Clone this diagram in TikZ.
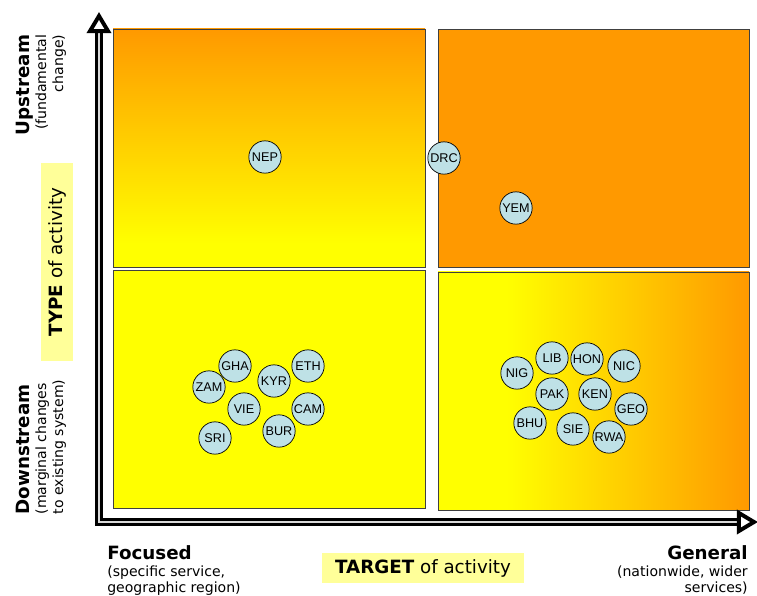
\documentclass[tikz,border=0pt]{standalone}
\usepackage{fontspec}
\setmainfont{DejaVu Sans}
\newfontfamily\tagfont{Liberation Sans}
\usepackage{xcolor}
\usepackage{tikz}
\usetikzlibrary{arrows.meta}

\definecolor{quadorange}{RGB}{255,153,0}
\definecolor{quadyellow}{RGB}{255,255,0}
\definecolor{bubble}{RGB}{190,225,230}
\definecolor{hilite}{RGB}{255,255,153}

% shadings are fitted so that 25bp..75bp covers the box
\pgfdeclareverticalshading{upfade}{100bp}{color(0bp)=(quadyellow); color(30bp)=(quadyellow); color(75bp)=(quadorange); color(100bp)=(quadorange)}
\pgfdeclarehorizontalshading{sidefade}{100bp}{color(0bp)=(quadyellow); color(36bp)=(quadyellow); color(75bp)=(quadorange); color(100bp)=(quadorange)}

\tikzset{axistip/.tip={Triangle[open, length=15pt, width=17pt, line width=2.8pt]}}

\begin{document}
\begin{tikzpicture}[
    x=0.025cm, y=-0.025cm,
    quad/.style={draw=black!75, line width=0.6pt},
    country/.style={circle, draw=black, line width=0.5pt, fill=bubble, inner sep=0pt, minimum size=23pt, font=\tagfont\fontsize{9}{10}\selectfont},
    axisline/.style={draw=black, line width=2.2pt, double=gray!30, double distance=0.9pt, line join=miter, arrows={axistip-axistip}},
    tag/.style={fill=hilite, inner sep=0pt, font=\fontsize{13}{15}\selectfont},
    side/.style={inner sep=0pt, font=\fontsize{10}{12}\selectfont}
]
    \useasboundingbox (0,0) rectangle (757,596);

    % Four quadrants
    \draw[quad, shading=upfade] (113,29) rectangle (425,267);
    \draw[quad, fill=quadorange] (438,29) rectangle (749,267);
    \draw[quad, fill=quadyellow] (113,270) rectangle (425,508);
    \draw[quad, shading=sidefade] (438,272) rectangle (749,510);

    % Axes
    \coordinate (ytop) at (99,12);
    \coordinate (origin) at (99,522);
    \coordinate (xend) at (758,522);
    \draw[axisline] (ytop) -- (origin) -- (xend);

    % Axis titles
    \node[tag, rotate=90, minimum width=141pt, minimum height=23pt] (type) at (57,262) {\textbf{TYPE} of activity};
    \node[tag, minimum width=144pt, minimum height=22pt] (target) at (423,568) {\textbf{TARGET} of activity};

    % Ends of the vertical axis
    \node[side, rotate=90, align=right] (upstream) at (41,85)
        {{\fontsize{13}{15}\selectfont\bfseries Upstream}\\(fundamental\\change)};
    \node[side, rotate=90, align=left] (downstream) at (41,447)
        {{\fontsize{13}{15}\selectfont\bfseries Downstream}\\(marginal changes\\to existing system)};

    % Ends of the horizontal axis
    \node[side, anchor=north west, align=left] (focused) at (107,545)
        {{\fontsize{13}{15}\selectfont\bfseries Focused}\\(specific service,\\geographic region)};
    \node[side, anchor=north east, align=right] (general) at (748,545)
        {{\fontsize{13}{15}\selectfont\bfseries General}\\(nationwide, wider\\services)};

    % Upper half
    \node[country] (nep) at (265,157) {NEP};
    \node[country] (drc) at (444,158) {DRC};
    \node[country] (yem) at (516,208) {YEM};

    % Lower left
    \node[country] (gha) at (235,366) {GHA};
    \node[country] (zam) at (209,387) {ZAM};
    \node[country] (kyr) at (274,381) {KYR};
    \node[country] (eth) at (308,366) {ETH};
    \node[country] (vie) at (244,409) {VIE};
    \node[country] (cam) at (308,409) {CAM};
    \node[country] (bur) at (279,431) {BUR};
    \node[country] (sri) at (215,438) {SRI};

    % Lower right
    \node[country] (nig) at (517,373) {NIG};
    \node[country] (lib) at (552,358) {LIB};
    \node[country] (hon) at (587,359) {HON};
    \node[country] (nic) at (624,366) {NIC};
    \node[country] (pak) at (552,394) {PAK};
    \node[country] (ken) at (595,394) {KEN};
    \node[country] (geo) at (631,409) {GEO};
    \node[country] (bhu) at (530,423) {BHU};
    \node[country] (sie) at (573,429) {SIE};
    \node[country] (rwa) at (609,437) {RWA};
\end{tikzpicture}
\end{document}
